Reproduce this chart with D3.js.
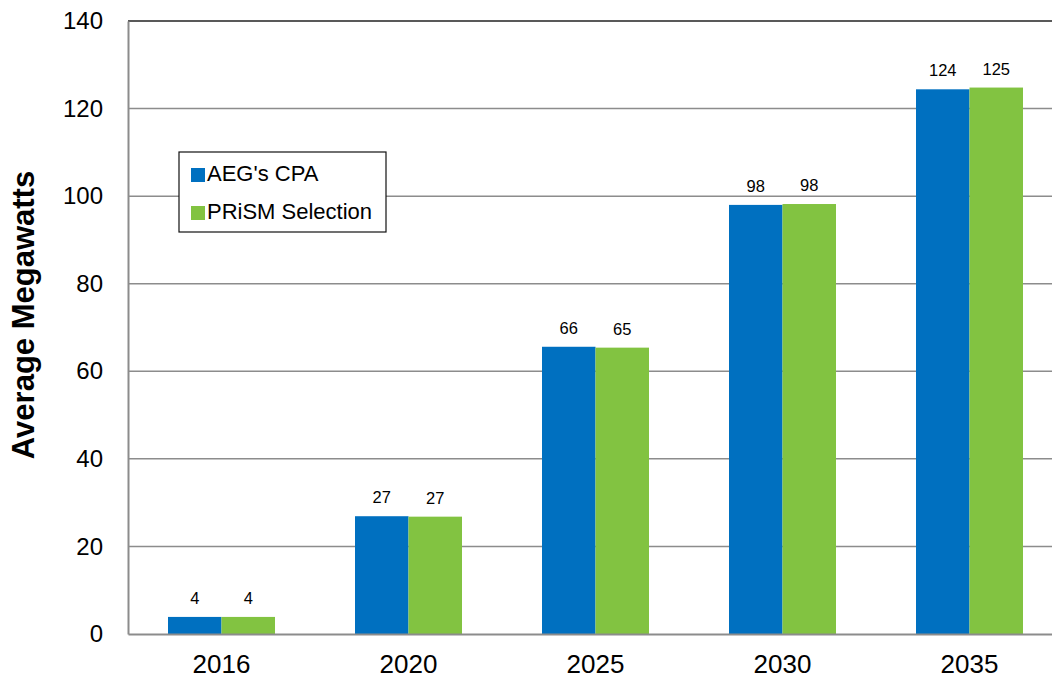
<!DOCTYPE html>
<html><head><meta charset="utf-8">
<script src="https://cdn.jsdelivr.net/npm/d3@7"></script>
<style>html,body{margin:0;padding:0;background:#fff;overflow:hidden}svg{display:block;font-family:"Liberation Sans",Arial,sans-serif}</style>
</head><body>
<script>
const years = ["2016","2020","2025","2030","2035"];
const seriesNames = ["AEG's CPA","PRiSM Selection"];
const aegValues = [3.9, 26.9, 65.6, 98.0, 124.4];
const prismValues = [3.9, 26.8, 65.4, 98.2, 124.8];
const aegLabels = ["4","27","66","98","124"];
const prismLabels = ["4","27","65","98","125"];
const yTicks = [0,20,40,60,80,100,120,140];
const colors = ["#0070C0","#82C341"];

(function(){
const W = 1052, H = 681;
const svg = d3.select("body").append("svg").attr("width",W).attr("height",H);
const mLeft = 128, mTop = 21, mBottom = 634, mRight = 128 + 5*187;

const x = d3.scaleBand().domain(years).range([mLeft,mRight]).paddingInner(0).paddingOuter(0);
const y = d3.scaleLinear().domain([0,140]).range([mBottom,mTop]);
const groupW = 107;
const xs = d3.scaleBand().domain(seriesNames).range([0,groupW]);

// gridlines
svg.append("g").selectAll("line").data(yTicks.filter(t=>t>0 && t<140)).join("line")
  .attr("x1",mLeft).attr("x2",mRight).attr("y1",d=>y(d)).attr("y2",d=>y(d))
  .attr("stroke","#8c8c8c").attr("stroke-width",1.5);
// top border
svg.append("line").attr("x1",mLeft).attr("x2",mRight).attr("y1",y(140)).attr("y2",y(140))
  .attr("stroke","#222").attr("stroke-width",1.5);

const data = years.map((yr,i)=>({yr, vals:[aegValues[i],prismValues[i]], labs:[aegLabels[i],prismLabels[i]]}));
const g = svg.append("g").selectAll("g").data(data).join("g")
  .attr("transform",d=>`translate(${x(d.yr)+(x.bandwidth()-groupW)/2},0)`);
g.selectAll("rect").data(d=>d.vals.map((v,j)=>({v,j,name:seriesNames[j]}))).join("rect")
  .attr("x",d=>xs(d.name)).attr("width",xs.bandwidth())
  .attr("y",d=>y(d.v)).attr("height",d=>y(0)-y(d.v))
  .attr("fill",d=>colors[d.j]);
g.selectAll("text").data(d=>d.vals.map((v,j)=>({v,j,name:seriesNames[j],lab:d.labs[j]}))).join("text")
  .attr("x",d=>xs(d.name)+xs.bandwidth()/2).attr("y",d=>y(d.v)-13)
  .attr("text-anchor","middle").attr("font-size",16.5).attr("fill","#000").text(d=>d.lab);

// axes
const yAxis = svg.append("g").attr("transform",`translate(${mLeft},0)`)
  .call(d3.axisLeft(y).tickValues(yTicks).tickSize(0).tickPadding(25));
yAxis.attr("font-size",null).attr("font-family",null);
yAxis.select(".domain").attr("stroke","#8c8c8c").attr("stroke-width",2);
yAxis.selectAll("text").attr("font-size",24).attr("fill","#000");

const xAxis = svg.append("g").attr("transform",`translate(0,${mBottom})`)
  .call(d3.axisBottom(x).tickSize(0).tickPadding(21));
xAxis.attr("font-size",null).attr("font-family",null);
xAxis.select(".domain").attr("stroke","#8c8c8c").attr("stroke-width",2);
xAxis.selectAll("text").attr("font-size",26).attr("fill","#000");

// y label
svg.append("text").attr("transform",`translate(34,315) rotate(-90)`)
  .attr("text-anchor","middle").attr("font-size",31).attr("font-weight","bold").text("Average Megawatts");

// legend
const lg = svg.append("g").attr("transform","translate(179,152)");
lg.append("rect").attr("width",207).attr("height",80).attr("fill","#fff").attr("stroke","#111").attr("stroke-width",1.2);
seriesNames.forEach((n,i)=>{
  lg.append("rect").attr("x",12).attr("y",16+i*38).attr("width",14).attr("height",14).attr("fill",colors[i]);
  lg.append("text").attr("x",28).attr("y",29+i*38).attr("font-size",22).text(n);
});
})();
</script>
</body></html>
